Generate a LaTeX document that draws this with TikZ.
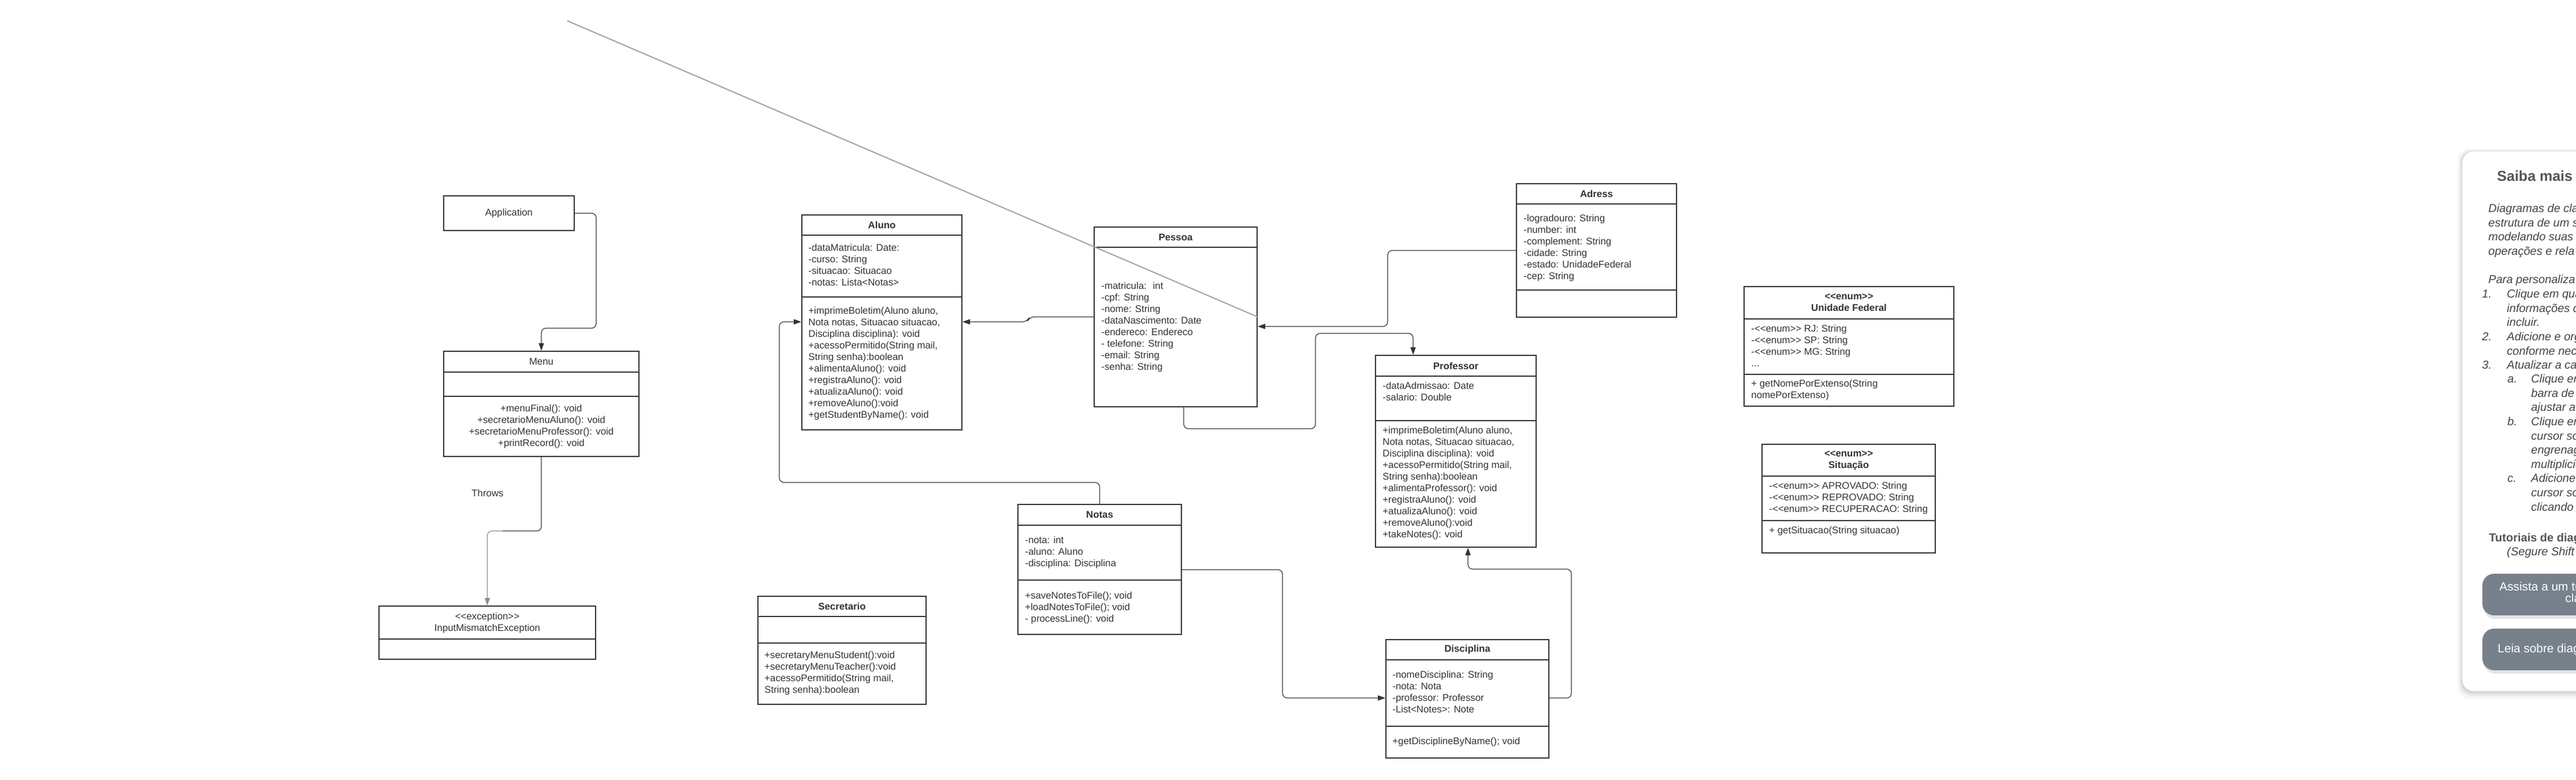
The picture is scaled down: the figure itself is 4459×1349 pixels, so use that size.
\documentclass[tikz,border=0pt]{standalone}
\usepackage{fontspec}
\newfontfamily\lib{Liberation Sans}
\usetikzlibrary{arrows.meta, calc, fit}

\definecolor{ink}{HTML}{333333}
\definecolor{guide}{HTML}{9EA3A8}
\definecolor{notegray}{HTML}{444444}
\definecolor{titlegray}{HTML}{555555}
\definecolor{btn}{HTML}{77818C}

\newcommand{\cfont}{\lib\fontsize{8.4}{10}\selectfont}
\newcommand{\nfont}{\lib\itshape\fontsize{10}{12.3}\selectfont}

\tikzset{
  cls/.style={draw=ink, line width=1pt, inner sep=0pt},
  bar/.style={draw=ink, line width=1pt},
  hdr/.style={font=\cfont\bfseries, text=ink, inner sep=0pt},
  lbl/.style={font=\cfont, text=ink, inner sep=0pt},
  memb/.style={font=\cfont, text=ink, inner sep=0pt, anchor=north west, align=left},
  link/.style={draw=ink, line width=0.6pt, rounded corners=4pt},
  arr/.style={-{Triangle[length=6.5pt, width=4.5pt]}},
  notetext/.style={font=\nfont, text=notegray, inner sep=0pt, anchor=north west, align=left},
  btntext/.style={font=\lib\fontsize{10.4}{12}\selectfont, text=white, inner sep=0pt, anchor=west},
}

\begin{document}
\begin{tikzpicture}[x=0.5pt, y=-0.5pt]
  \useasboundingbox (0,0) rectangle (4459,1349);

  % Application, Menu, exception
  \node[cls, fit={(768,339) (994,399)}] (app) {};
  \node[lbl] (appname) at (app.center) {Application};

  \node[cls, fit={(768,608) (1106,790)}] (menu) {};
  \draw[bar] (768,644) -- (1106,644) (768,686) -- (1106,686);
  \node[lbl] (menuname) at (937,626) {Menu};
  \node[lbl, anchor=north, align=center] (menuops) at (937,698) {\strut+menuFinal(): void\\+secretarioMenuAluno(): void\\+secretarioMenuProfessor(): void\\+printRecord(): void};

  \node[cls, fit={(656,1049) (1031,1141)}] (exc) {};
  \draw[bar] (656,1106) -- (1031,1106);
  \node[lbl, anchor=north, align=center] (excname) at (843.5,1058) {\strut<<exception>>\\InputMismatchException};

  % Aluno
  \node[cls, fit={(1388,372) (1665,744)}] (aluno) {};
  \draw[bar] (1388,407) -- (1665,407) (1388,514) -- (1665,514);
  \node[hdr] (alunoname) at (1526.5,389.5) {Aluno};
  \node[memb] (alunoattr) at (1399,420) {\strut-dataMatricula: Date:\\-curso: String\\-situacao: Situacao\\-notas: Lista<Notas>};
  \node[memb] (alunoops) at (1399,529) {\strut+imprimeBoletim(Aluno aluno,\\Nota notas, Situacao situacao,\\Disciplina disciplina): void\\+acessoPermitido(String mail,\\String senha):boolean\\+alimentaAluno(): void\\+registraAluno(): void\\+atualizaAluno(): void\\+removeAluno():void\\+getStudentByName(): void};

  % Pessoa
  \node[cls, fit={(1894,393) (2176,704)}] (pessoa) {};
  \draw[bar] (1894,428) -- (2176,428);
  \node[hdr] (pessoaname) at (2035,410.5) {Pessoa};
  \node[memb] (pessoaattr) at (1906,486) {\strut-matricula: \ int\\-cpf: String\\-nome: String\\-dataNascimento: Date\\-endereco: Endereco\\- telefone: String\\-email: String\\-senha: String};

  % Adress
  \node[cls, fit={(2625,318) (2902,549)}] (adress) {};
  \draw[bar] (2625,353) -- (2902,353) (2625,502) -- (2902,502);
  \node[hdr] (adressname) at (2763.5,335.5) {Adress};
  \node[memb] (adressattr) at (2637,369) {\strut-logradouro: String\\-number: int\\-complement: String\\-cidade: String\\-estado: UnidadeFederal\\-cep: String};

  % Professor
  \node[cls, fit={(2381,615) (2659,947)}] (prof) {};
  \draw[bar] (2381,651) -- (2659,651) (2381,728) -- (2659,728);
  \node[hdr] (profname) at (2520,633) {Professor};
  \node[memb] (profattr) at (2393,659) {\strut-dataAdmissao: Date\\-salario: Double};
  \node[memb] (profops) at (2393,736) {\strut+imprimeBoletim(Aluno aluno,\\Nota notas, Situacao situacao,\\Disciplina disciplina): void\\+acessoPermitido(String mail,\\String senha):boolean\\+alimentaProfessor(): void\\+registraAluno(): void\\+atualizaAluno(): void\\+removeAluno():void\\+takeNotes(): void};

  % Notas
  \node[cls, fit={(1762,873) (2045,1098)}] (notas) {};
  \draw[bar] (1762,909) -- (2045,909) (1762,1004) -- (2045,1004);
  \node[hdr] (notasname) at (1903.5,891) {Notas};
  \node[memb] (notasattr) at (1774,926) {\strut-nota: int\\-aluno: Aluno\\-disciplina: Disciplina};
  \node[memb] (notasops) at (1774,1022) {\strut+saveNotesToFile(); void\\+loadNotesToFile(); void\\- processLine(): void};

  % Disciplina
  \node[cls, fit={(2399,1107) (2681,1312)}] (disc) {};
  \draw[bar] (2399,1142) -- (2681,1142) (2399,1257) -- (2681,1257);
  \node[hdr] (discname) at (2540,1124.5) {Disciplina};
  \node[memb] (discattr) at (2410,1159) {\strut-nomeDisciplina: String\\-nota: Nota\\-professor: Professor\\-List<Notes>: Note};
  \node[memb] (discops) at (2410,1274) {\strut+getDisciplineByName(); void};

  % Secretario
  \node[cls, fit={(1312,1032) (1603,1219)}] (secr) {};
  \draw[bar] (1312,1067) -- (1603,1067) (1312,1113) -- (1603,1113);
  \node[hdr] (secrname) at (1457.5,1049.5) {Secretario};
  \node[memb] (secrops) at (1323,1125) {\strut+secretaryMenuStudent():void\\+secretaryMenuTeacher():void\\+acessoPermitido(String mail,\\String senha):boolean};

  % enums
  \node[cls, fit={(3019,496) (3382,703)}] (uf) {};
  \draw[bar] (3019,552) -- (3382,552) (3019,648) -- (3382,648);
  \node[hdr, anchor=north, align=center] (ufname) at (3200.5,504) {\strut<<enum>>\\Unidade Federal};
  \node[memb] (ufattr) at (3031,560) {\strut-<<enum>> RJ: String\\-<<enum>> SP: String\\-<<enum>> MG: String\\...};
  \node[memb] (ufops) at (3031,655) {\strut+ getNomePorExtenso(String\\nomePorExtenso)};

  \node[cls, fit={(3050,769) (3350,957)}] (sit) {};
  \draw[bar] (3050,824) -- (3350,824) (3050,901) -- (3350,901);
  \node[hdr, anchor=north, align=center] (sitname) at (3200,776) {\strut<<enum>>\\Situação};
  \node[memb] (sitattr) at (3062,832) {\strut-<<enum>> APROVADO: String\\-<<enum>> REPROVADO: String\\-<<enum>> RECUPERACAO: String};
  \node[memb] (sitops) at (3062,909) {\strut+ getSituacao(String situacao)};

  % connectors
  \draw[link, arr] (app.east) -- (1032,369) -- (1032,568) -- (937,568) -- (menu.north);
  \coordinate (throwsbend) at (870,919);
  \draw[link] (menu.south) -- (937,919) -- (throwsbend);
  \draw[link, draw=guide!80!ink, arr] (throwsbend) -- (exc.north |- throwsbend) -- (exc.north);
  \node[lbl] (throws) at (844,853) {Throws};

  \draw[link, arr] (pessoa.west) -- (1782,548.5) -- (1778,557) -- (aluno.east |- 0,557);
  \draw[link, arr] (adress.west) -- (2402,433.5) -- (2402,565) -- (pessoa.east |- 0,565);
  \draw[link, arr] (2049,0 |- pessoa.south) -- (2049,742) -- (2277,742) -- (2277,577) -- (2446,577) -- (2446,0 |- prof.north);
  \draw[link, arr] (notas.north) -- (1903.5,835) -- (1349,835) -- (1349,557) -- (aluno.west |- 0,557);
  \draw[link, arr] (notas.east |- 0,986) -- (2220,986) -- (2220,1208) -- (disc.west |- 0,1208);
  \draw[link, arr] (disc.east |- 0,1208) -- (2720,1208) -- (2720,985) -- (2541,985) -- (2541,0 |- prof.south);

  \coordinate (loose) at (982,36);
  \draw[guide, line width=1pt] (loose) -- (pessoa.east);

  % side panel
  \begin{scope}
    \clip (0,0) rectangle (4459,1349);
    \fill[black, opacity=0.04, rounded corners=10pt] (4254,258) rectangle (4600,1209);
    \fill[black, opacity=0.06, rounded corners=10pt] (4258,260) rectangle (4600,1204);
    \fill[black, opacity=0.08, rounded corners=10pt] (4260,262) rectangle (4600,1200);
    \filldraw[fill=white, draw=black!8, rounded corners=10pt] (4262,262) rectangle (4600,1196);

    \node[font=\lib\bfseries\fontsize{12.5}{15}\selectfont, text=titlegray, inner sep=0pt, anchor=west] (saiba) at (4322,305) {Saiba mais};
    \node[notetext] (intro) at (4307,350) {\strut Diagramas de cla\\estrutura de um s\\modelando suas\\operações e rela\\[12.3pt]Para personaliza};
    \node[notetext] (nums) at (4296,498) {\strut 1.\\[24.6pt]2.\\[12.3pt]3.};
    \node[notetext] (steps) at (4339,498) {\strut Clique em qua\\informações q\\incluir.\\Adicione e org\\conforme nece\\Atualizar a car};
    \node[notetext] (letters) at (4340,645) {\strut a.\\[24.6pt]b.\\[36.9pt]c.};
    \node[notetext] (substeps) at (4381,645) {\strut Clique em\\barra de\\ajustar a\\Clique em\\cursor sob\\engrenage\\multiplicid\\Adicione t\\cursor sob\\clicando d};
    \node[font=\lib\bfseries\fontsize{10}{12}\selectfont, text=titlegray, inner sep=0pt, anchor=west] (tuts) at (4308,932) {Tutoriais de diag};
    \node[font=\nfont, text=notegray, inner sep=0pt, anchor=west] (hold) at (4339,956) {(Segure Shift +};

    \fill[black, opacity=0.10, rounded corners=10pt] (4299,997) rectangle (4600,1071);
    \fill[btn, rounded corners=10pt] (4297,993) rectangle (4600,1065);
    \node[btntext] (watch) at (4326,1015) {Assista a um tu};
    \node[btntext] (watch2) at (4440,1035) {clas};
    \fill[black, opacity=0.10, rounded corners=10pt] (4299,1092) rectangle (4600,1166);
    \fill[btn, rounded corners=10pt] (4297,1088) rectangle (4600,1160);
    \node[btntext] (read) at (4323,1124) {Leia sobre diagr};
  \end{scope}
\end{tikzpicture}
\end{document}
